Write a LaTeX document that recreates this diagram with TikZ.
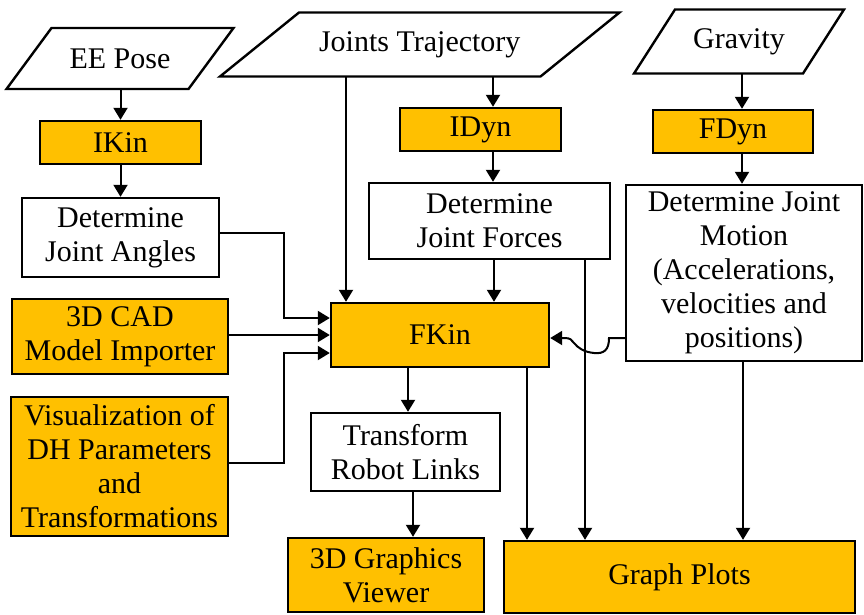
\documentclass[tikz,border=0pt]{standalone}
\usepackage{fontspec}
\setmainfont{Liberation Serif}
\usetikzlibrary{arrows.meta}
\definecolor{gold}{HTML}{FFC000}

\begin{document}
\begin{tikzpicture}[x=1pt,y=-1pt,line width=2pt,
  txt/.style={align=center,inner sep=0pt,font=\fontsize{30}{34}\selectfont},
  box/.style={txt,draw,rectangle,line width=2.4pt},
  proc/.style={box,fill=white},
  tool/.style={box,fill=gold},
  io/.style={txt,rectangle},
  slanted/.style={line width=2.4pt},
  arr/.style={-{Triangle[length=12pt,width=14pt]}}]
\useasboundingbox (0,0) rectangle (864,614);

% inputs (parallelograms drawn around invisible rectangles)
\node[io,minimum width=180pt,minimum height=59pt] (ee) at (120,58.5) {EE Pose};
\draw[slanted] ([xshift=22.5pt]ee.north west) -- ([xshift=22.5pt]ee.north east)
  -- ([xshift=-22.5pt]ee.south east) -- ([xshift=-22.5pt]ee.south west) -- cycle;

\node[io,minimum width=318.5pt,minimum height=62pt] (jt) at (419.75,44.5) {Joints Trajectory};
\draw[slanted] ([xshift=39.5pt]jt.north west) -- ([xshift=39.5pt]jt.north east)
  -- ([xshift=-39.5pt]jt.south east) -- ([xshift=-39.5pt]jt.south west) -- cycle;

\node[io,minimum width=167pt,minimum height=62pt] (grav) at (739,41.5) {Gravity};
\draw[slanted] ([xshift=20.5pt]grav.north west) -- ([xshift=20.5pt]grav.north east)
  -- ([xshift=-20.5pt]grav.south east) -- ([xshift=-20.5pt]grav.south west) -- cycle;

% solver blocks
\node[tool,minimum width=161pt,minimum height=43pt] (ikin) at (120.5,142.5) {IKin};
\node[tool,minimum width=161pt,minimum height=43pt] (idyn) at (480.5,129.5) {IDyn};
\node[tool,minimum width=160pt,minimum height=43pt] (fdyn) at (733,131.5) {FDyn};

% intermediate results
\node[proc,minimum width=197pt,minimum height=79pt] (dja) at (120.5,237.5) {Determine\\Joint Angles};
\node[proc,minimum width=241pt,minimum height=76pt] (djf) at (489.5,221) {Determine\\Joint Forces};
\node[proc,minimum width=236pt,minimum height=176pt] (djm) at (744,273)
  {Determine Joint\\Motion\\(Accelerations,\\velocities and\\positions)};

% left-hand modules and forward kinematics
\node[tool,minimum width=216pt,minimum height=75pt] (cad) at (120,336.5) {3D CAD\\Model Importer};
\node[tool,minimum width=217pt,minimum height=139pt] (vis) at (119.5,466.5)
  {Visualization of\\DH Parameters\\and\\Transformations};
\node[tool,minimum width=218pt,minimum height=64pt] (fkin) at (440,335) {FKin};

% outputs
\node[proc,minimum width=189pt,minimum height=78pt] (trl) at (405.5,452) {Transform\\Robot Links};
\node[tool,minimum width=196pt,minimum height=74pt] (gv) at (386,575) {3D Graphics\\Viewer};
\node[tool,minimum width=351pt,minimum height=72pt] (gp) at (679.5,577) {Graph Plots};

% column and bend positions
\coordinate (cEE) at (120.5,0);
\coordinate (cID) at (493,0);
\coordinate (cFD) at (742,0);
\coordinate (cJT) at (346,0);
\coordinate (cJF) at (494,0);
\coordinate (cTR) at (408,0);
\coordinate (cGV) at (413,0);
\coordinate (cP1) at (527,0);
\coordinate (cP2) at (585,0);
\coordinate (cP3) at (743,0);
\coordinate (b1) at (283.5,233);
\coordinate (b2) at (283.5,318);
\coordinate (b3) at (283.5,463);
\coordinate (b4) at (283.5,353);
\coordinate (yc) at (0,335);
\coordinate (h0) at (609,338);

% top chains
\draw[arr] (ee.south -| cEE) -- (ikin.north -| cEE);
\draw[arr] (ikin.south -| cEE) -- (dja.north -| cEE);
\draw[arr] (jt.south -| cID) -- (idyn.north -| cID);
\draw[arr] (idyn.south -| cID) -- (djf.north -| cID);
\draw[arr] (grav.south -| cFD) -- (fdyn.north -| cFD);
\draw[arr] (fdyn.south -| cFD) -- (djm.north -| cFD);

% into FKin
\draw[arr] (jt.south -| cJT) -- (fkin.north -| cJT);
\draw[arr] (djf.south -| cJF) -- (fkin.north -| cJF);
\draw[arr] (dja.east |- b1) -- (b1) -- (b2) -- (fkin.west |- b2);
\draw[arr] (cad.east |- yc) -- (fkin.west |- yc);
\draw[arr] (vis.east |- b3) -- (b3) -- (b4) -- (fkin.west |- b4);
\draw[arr] (djm.west |- h0) -- (h0)
  .. controls (609,350) and (604,354) .. (594,353)
  .. controls (584,352) and (578,348) .. (574,343)
  .. controls (572,340) and (570,338) .. (565,338)
  -- (fkin.east |- h0);

% out of FKin and the result blocks
\draw[arr] (fkin.south -| cTR) -- (trl.north -| cTR);
\draw[arr] (trl.south -| cGV) -- (gv.north -| cGV);
\draw[arr] (fkin.south -| cP1) -- (gp.north -| cP1);
\draw[arr] (djf.south -| cP2) -- (gp.north -| cP2);
\draw[arr] (djm.south -| cP3) -- (gp.north -| cP3);
\end{tikzpicture}
\end{document}
